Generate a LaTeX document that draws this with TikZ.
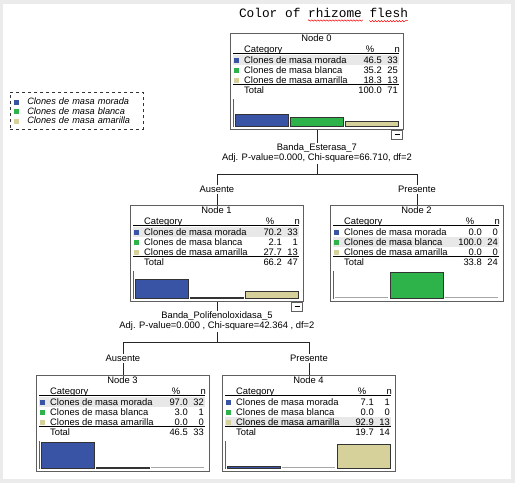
\documentclass[tikz,border=0pt]{standalone}
\usepackage{fontspec}
\setmainfont{Liberation Sans}
\newfontfamily\titlemono{Liberation Mono}
\usetikzlibrary{positioning,calc,decorations.pathmorphing}

\definecolor{cat1}{RGB}{58,84,165}
\definecolor{cat2}{RGB}{46,179,74}
\definecolor{cat3}{RGB}{214,208,155}
\definecolor{hilite}{RGB}{232,232,232}
\definecolor{pagegray}{RGB}{235,235,235}
\definecolor{framegray}{RGB}{95,95,95}

\newcommand{\catname}[1]{\ifcase#1\or morada\or blanca\or amarilla\fi}

\tikzset{
  txt/.style={font=\fontsize{9.4}{10}\selectfont, inner sep=0pt},
  nodebox/.style={draw=framegray, line width=0.9pt, minimum width=173pt,
    minimum height=96pt, inner sep=0pt, anchor=north west},
  barline/.style={draw=black!80, line width=0.6pt},
  zeroline/.style={draw=gray!70, line width=0.8pt},
  link/.style={draw=black!85, line width=0.7pt},
  splitlab/.style={txt, align=center, inner sep=1pt},
  edgelab/.style={txt, fill=white, inner sep=1.5pt},
  collapse/.style={draw=framegray, line width=0.7pt, minimum width=11pt,
    minimum height=9pt, inner sep=0pt, anchor=north east},
  legendbox/.style={draw=black!80, dashed, line width=0.6pt, anchor=north west,
    font=\fontsize{9.2}{9.5}\selectfont\itshape, align=left,
    text width=125pt, inner xsep=4pt, minimum height=37pt}
}

% name, position, node number, highlighted row, rows (pct/n), total (pct/n)
\newcommand{\treebox}[6]{%
  \begin{scope}[shift={(#2)}]
    \node[nodebox] (#1) at (0,0) {};
    \fill[hilite] (3,{22.3+10*(#4-1)}) rectangle (169,{32.3+10*(#4-1)});
    \node[txt,anchor=base] at (86.5,8) {Node #3};
    \node[txt,anchor=base west] at (14,19.5) {Category};
    \node[txt,anchor=base] at (140,19.5) {\%};
    \node[txt,anchor=base east] at (170,19.5) {n};
    \draw[line width=1.1pt] (3,20.8) -- (169,20.8);
    \foreach \p/\n [count=\i] in {#5} {
      \pgfmathsetmacro\rowy{30.6+10*(\i-1)}
      \fill[cat\i] (4,\rowy-6) rectangle +(5,5);
      \node[txt,anchor=base west] at (14,\rowy) {Clones de masa \catname{\i}};
      \node[txt,anchor=base east] at (152,\rowy) {\p};
      \node[txt,anchor=base east] at (168,\rowy) {\n};
      \pgfmathsetmacro\h{max(\p*0.26,1)}
      \ifdim\p pt>0pt
        \draw[barline,fill=cat\i] ({5+55*(\i-1)},93) rectangle +(53,-\h);
      \else
        \draw[zeroline] ({5+55*(\i-1)},92.6) -- +(53,0);
      \fi
    }
    \draw[line width=0.8pt] (3,51.6) -- (169,51.6);
    \foreach \tp/\tn in {#6} {
      \node[txt,anchor=base west] at (14,60.4) {Total};
      \node[txt,anchor=base east] at (152,60.4) {\tp};
      \node[txt,anchor=base east] at (168,60.4) {\tn};
    }
    \draw[framegray,line width=0.8pt] (3,66) -- (3,93.5);
  \end{scope}
}

\begin{document}
\begin{tikzpicture}[x=1pt,y=-1pt]
  \useasboundingbox (0,0) rectangle (515,483);
  \fill[pagegray] (0,0) rectangle (515,483);
  \fill[white] (3,4) rectangle (511,479);

  % title
  \node[font=\titlemono\fontsize{12.8}{14}\selectfont, inner sep=0pt, anchor=base]
    (title) at (323.5,17) {Color of rhizome flesh};
  \draw[red, line width=0.5pt, decorate,
        decoration={snake, amplitude=0.7pt, segment length=3pt}]
    ($(title.base west)+(69.1,3.5)$) -- +(53.8,0)
    ($(title.base west)+(130.6,3.5)$) -- +(38.4,0);

  % legend
  \node[legendbox] (legend) at (10,92)
    {\textcolor{cat1}{\rule{5pt}{5pt}}\hspace{8pt}Clones de masa morada\\
     \textcolor{cat2}{\rule{5pt}{5pt}}\hspace{8pt}Clones de masa blanca\\
     \textcolor{cat3}{\rule{5pt}{5pt}}\hspace{8pt}Clones de masa amarilla};

  % nodes
  \treebox{n0}{230,33}{0}{1}{46.5/33, 35.2/25, 18.3/13}{100.0/71}
  \treebox{n1}{130,205}{1}{1}{70.2/33, 2.1/1, 27.7/13}{66.2/47}
  \treebox{n2}{330,205}{2}{2}{0.0/0, 100.0/24, 0.0/0}{33.8/24}
  \treebox{n3}{36,375}{3}{1}{97.0/32, 3.0/1, 0.0/0}{46.5/33}
  \treebox{n4}{222,375}{4}{3}{7.1/1, 0.0/0, 92.9/13}{19.7/14}

  \node[collapse] at ($(n0.south east)+(-1,0)$) {\rule{5pt}{0.7pt}};
  \node[collapse] at ($(n1.south east)+(-1,0)$) {\rule{5pt}{0.7pt}};

  % splits
  \node[splitlab, below=13pt of n0] (s0)
    {Banda\_Esterasa\_7\\Adj. P-value=0.000, Chi-square=66.710, df=2};
  \coordinate (b0) at ($(s0.south)+(0,10)$);
  \draw[link] (n0.south) -- (s0);
  \draw[link] (s0) -- (b0) -| node[edgelab,pos=0.75] {Ausente} (n1.north);
  \draw[link] (b0) -| node[edgelab,pos=0.75] {Presente} (n2.north);

  \node[splitlab, below=9pt of n1] (s1)
    {Banda\_Polifenoloxidasa\_5\\Adj. P-value=0.000 , Chi-square=42.364 , df=2};
  \coordinate (b1) at ($(s1.south)+(0,10)$);
  \draw[link] (n1.south) -- (s1);
  \draw[link] (s1) -- (b1) -| node[edgelab,pos=0.75] {Ausente} (n3.north);
  \draw[link] (b1) -| node[edgelab,pos=0.75] {Presente} (n4.north);
\end{tikzpicture}
\end{document}
